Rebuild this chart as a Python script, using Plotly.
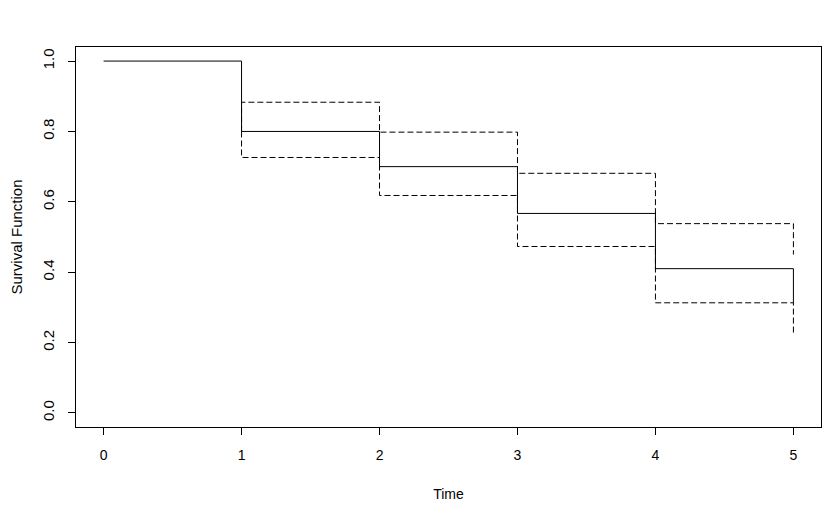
import plotly.graph_objects as go

time = [0, 1, 2, 3, 4, 5]
surv = [1.0, 0.80, 0.70, 0.567, 0.41, 0.313]
upper = [1.0, 0.883, 0.798, 0.681, 0.538, 0.45]
lower = [1.0, 0.726, 0.618, 0.473, 0.313, 0.222]

FONT = "Liberation Sans, Arial, sans-serif"

fig = go.Figure()
# confidence limits start where the curve first drops
for ci in (upper, lower):
    fig.add_trace(go.Scatter(x=[time[1]] + time[1:], y=[surv[1]] + ci[1:],
                             mode="lines", line_shape="hv",
                             line=dict(color="black", width=1, dash="6px,3px"),
                             hoverinfo="skip"))
fig.add_trace(go.Scatter(x=time, y=surv, mode="lines", line_shape="hv",
                         line=dict(color="black", width=1)))

axis_common = dict(showgrid=False, zeroline=False, showline=True, mirror=True,
                   linecolor="black", linewidth=1, ticks="outside", ticklen=7,
                   tickcolor="black", automargin=False)

fig.update_xaxes(range=[-0.2, 5.2], tickvals=time, ticklabelstandoff=8,
                 tickfont=dict(size=14, color="black"),
                 title=dict(text="Time", standoff=27, font=dict(size=14, color="black")),
                 **axis_common)
fig.update_yaxes(range=[-0.04, 1.04], tickvals=[0, 0.2, 0.4, 0.6, 0.8, 1.0],
                 tickformat=".1f", tickangle=-90, ticklabelstandoff=8,
                 tickfont=dict(size=15, color="black"),
                 title=dict(text="Survival Function", standoff=31, font=dict(size=15, color="black")),
                 **axis_common)

# page body has an 8px margin, so the figure is sized and placed around it
fig.update_layout(template="plotly_white", width=829, height=504, showlegend=False,
                  font=dict(family=FONT, size=14, color="black"),
                  plot_bgcolor="white", paper_bgcolor="white",
                  margin=dict(l=68, r=16, t=39, b=85))
fig.write_html("out.html")
